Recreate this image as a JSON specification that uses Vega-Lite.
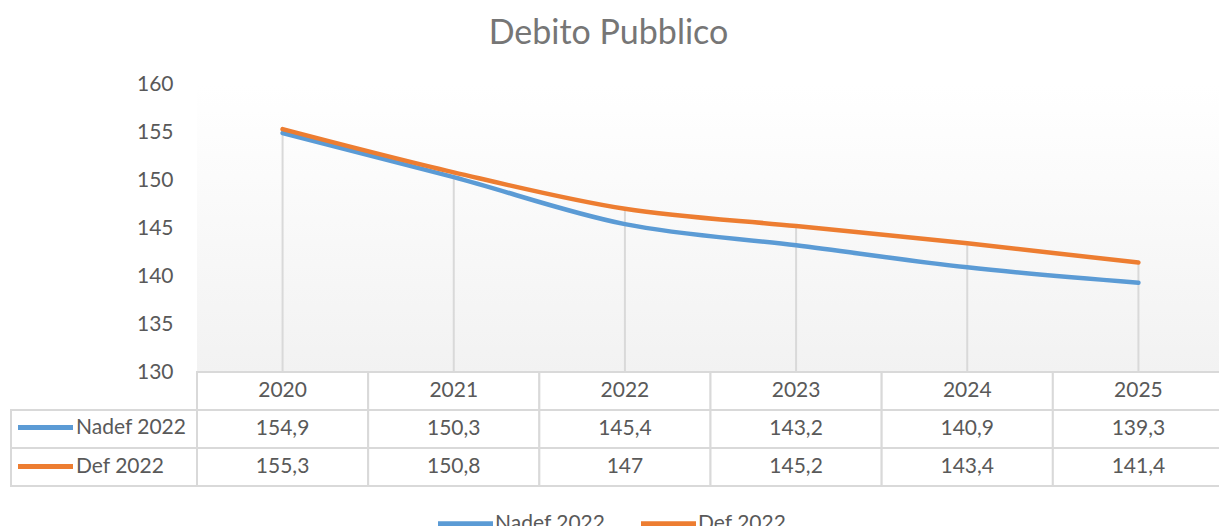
{
  "$schema": "https://vega.github.io/schema/vega-lite/v6.json",
  "background": "white",
  "padding": {"left": 10, "top": 17, "right": 0, "bottom": 0},
  "title": {"text": "Debito Pubblico", "fontSize": 34, "font": "Lato", "fontWeight": "normal", "color": "#767676", "anchor": "middle", "offset": 22, "dx": -9},
  "datasets": {
    "debt": [
      {"year": "2020", "series": "Nadef 2022", "value": 154.9},
      {"year": "2021", "series": "Nadef 2022", "value": 150.3},
      {"year": "2022", "series": "Nadef 2022", "value": 145.4},
      {"year": "2023", "series": "Nadef 2022", "value": 143.2},
      {"year": "2024", "series": "Nadef 2022", "value": 140.9},
      {"year": "2025", "series": "Nadef 2022", "value": 139.3},
      {"year": "2020", "series": "Def 2022", "value": 155.3},
      {"year": "2021", "series": "Def 2022", "value": 150.8},
      {"year": "2022", "series": "Def 2022", "value": 147},
      {"year": "2023", "series": "Def 2022", "value": 145.2},
      {"year": "2024", "series": "Def 2022", "value": 143.4},
      {"year": "2025", "series": "Def 2022", "value": 141.4}
    ]
  },
  "data": {"name": "debt"},
  "columns": 2,
  "spacing": 0,
  "bounds": "flush",
  "concat": [
    {
      "width": 186, "height": 288,
      "mark": {"type": "point", "opacity": 0}
    },
    {
      "width": 1027, "height": 288,
      "view": {"stroke": null, "fill": {"gradient": "linear", "x1": 0, "y1": 0, "x2": 0, "y2": 1, "stops": [{"offset": 0, "color": "#ffffff"}, {"offset": 0.17, "color": "#fdfdfd"}, {"offset": 1, "color": "#f2f2f2"}]}},
      "layer": [
        {
          "transform": [{"aggregate": [{"op": "max", "field": "value", "as": "vmax"}], "groupby": ["year"]}],
          "mark": {"type": "rule", "color": "#d9d9d9", "strokeWidth": 2},
          "encoding": {
            "x": {"field": "year", "type": "ordinal", "scale": {"type": "point", "padding": 0.5}, "axis": null},
            "y": {"field": "vmax", "type": "quantitative", "scale": {"domain": [130, 160]}, "axis": {"title": null, "values": [130, 135, 140, 145, 150, 155, 160], "domain": false, "ticks": false, "grid": false, "labelFont": "Lato", "labelFontSize": 21, "labelColor": "#595959", "labelPadding": 24}},
            "y2": {"datum": 130}
          }
        },
        {
          "mark": {"type": "line", "strokeWidth": 4.5, "interpolate": "monotone", "strokeCap": "round"},
          "encoding": {
            "x": {"field": "year", "type": "ordinal"},
            "y": {"field": "value", "type": "quantitative"},
            "color": {"field": "series", "type": "nominal", "scale": {"domain": ["Nadef 2022", "Def 2022"], "range": ["#5b9bd5", "#ed7d31"]},
              "legend": {"orient": "none", "legendX": 258, "legendY": 429, "direction": "horizontal", "title": null, "symbolType": "M-5,0H5", "columnPadding": 25, "labelOffset": 19}}
          }
        }
      ]
    },
    {
      "width": 186, "height": 114,
      "transform": [{"aggregate": [{"op": "count", "as": "n"}], "groupby": ["series"]}],
      "layer": [
        {
          "mark": {"type": "rect", "fill": "white", "stroke": "#d9d9d9", "strokeWidth": 2},
          "encoding": {
            "y": {"field": "series", "type": "nominal", "scale": {"domain": ["hdr", "Nadef 2022", "Def 2022"], "paddingInner": 0, "paddingOuter": 0}, "axis": null}
          }
        },
        {
          "mark": {"type": "rule", "opacity": 0},
          "encoding": {
            "y": {"field": "series", "type": "nominal"},
            "color": {"field": "series", "type": "nominal",
              "legend": {"orient": "none", "legendX": 24, "legendY": 45, "direction": "vertical", "title": null, "symbolType": "M-5,0H5", "rowPadding": 17, "labelOffset": 20}}
          }
        }
      ]
    },
    {
      "width": 1027, "height": 114,
      "layer": [
        {
          "transform": [{"aggregate": [{"op": "count", "as": "n"}], "groupby": ["year"]}],
          "layer": [
            {
              "mark": {"type": "rect", "fill": "white", "stroke": "#d9d9d9", "strokeWidth": 2},
              "encoding": {
                "x": {"field": "year", "type": "ordinal", "scale": {"paddingInner": 0, "paddingOuter": 0}, "axis": null},
                "y": {"datum": "hdr", "type": "nominal", "scale": {"domain": ["hdr", "Nadef 2022", "Def 2022"], "paddingInner": 0, "paddingOuter": 0}, "axis": null}
              }
            },
            {
              "mark": {"type": "text", "font": "Lato", "fontSize": 21, "color": "#595959"},
              "encoding": {
                "x": {"field": "year", "type": "ordinal"},
                "y": {"datum": "hdr", "type": "nominal"},
                "text": {"field": "year"}
              }
            }
          ]
        },
        {
          "mark": {"type": "rect", "fill": "white", "stroke": "#d9d9d9", "strokeWidth": 2},
          "encoding": {
            "x": {"field": "year", "type": "ordinal"},
            "y": {"field": "series", "type": "nominal"}
          }
        },
        {
          "mark": {"type": "text", "font": "Lato", "fontSize": 21, "color": "#595959"},
          "encoding": {
            "x": {"field": "year", "type": "ordinal"},
            "y": {"field": "series", "type": "nominal"},
            "text": {"field": "value", "type": "quantitative", "format": ".1~f"}
          }
        }
      ]
    }
  ],
  "resolve": {"scale": {"x": "independent", "y": "independent"}, "legend": {"color": "independent"}},
  "config": {
    "view": {"stroke": null},
    "locale": {"number": {"decimal": ",", "thousands": ".", "grouping": [3], "currency": ["€", ""]}},
    "legend": {"labelFont": "Lato", "labelFontSize": 21, "labelColor": "#595959", "symbolSize": 121, "symbolStrokeWidth": 5, "symbolOpacity": 1, "labelOffset": 17, "padding": 0}
  }
}
